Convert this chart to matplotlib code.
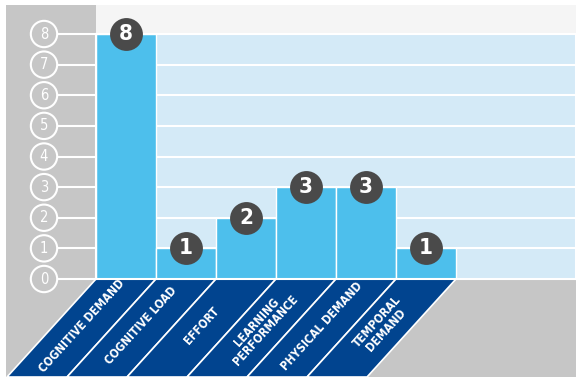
import numpy as np
import matplotlib
matplotlib.use('Agg')
import matplotlib.pyplot as plt
from matplotlib.patches import Rectangle, Polygon

categories = ['COGNITIVE DEMAND', 'COGNITIVE LOAD', 'EFFORT', 'LEARNING\nPERFORMANCE',
              'PHYSICAL DEMAND', 'TEMPORAL\nDEMAND']
counts = [8, 1, 2, 3, 3, 1]
y_ticks = [0, 1, 2, 3, 4, 5, 6, 7, 8]

FONT = ['DejaVu Sans']
GRAY = '#c6c6c6'
TOPBAND = '#f5f5f5'
LIGHTBLUE = '#d4eaf7'
BAR = '#4dbfec'
NAVY = '#01448f'
BADGE = '#4a4a4a'

W, H = 576, 377
fig = plt.figure(figsize=(W / 100, H / 100), dpi=100)
fig.patch.set_facecolor('white')

# background panels (figure pixel fractions)
fig.patches.append(Rectangle((6 / W, 0), 1 - 6 / W, 1 - 5 / H, transform=fig.transFigure,
                             facecolor=GRAY, edgecolor='none', zorder=-10))
fig.patches.append(Rectangle((96 / W, 1 - 33 / H), 1 - 96 / W, 28 / H, transform=fig.transFigure,
                             facecolor=TOPBAND, edgecolor='none', zorder=-10))

# main axes: 60 px per bar, value 0 at y=279, 8 at y=34
ax = fig.add_axes([96 / W, (H - 279) / H, 480 / W, 245 / H])
ax.set_facecolor(LIGHTBLUE)
ax.set_xlim(-0.5, 7.5)
ax.set_ylim(0, 8)
for s in ax.spines.values():
    s.set_color('white')
    s.set_linewidth(1.5)
ax.set_xticks([])
ax.set_yticks([])

x = np.arange(len(counts))
for yv in y_ticks[1:]:
    ax.axhline(yv, color='white', lw=1.5, zorder=1)
ax.bar(x, counts, width=1.0, color=BAR, edgecolor='white', linewidth=1, zorder=2)

# value badges
ax.scatter(x, counts, s=560, color=BADGE, zorder=5, clip_on=False, linewidths=0)
for xi, v in zip(x, counts):
    ax.text(xi, v, str(v), color='white', fontsize=16, fontweight='bold', family=FONT,
            fontstretch='condensed', ha='center', va='center', zorder=6)

# y labels in circles on the gray panel
px_x = 1 / 60.0
px_y = 8 / 245.0
cx = -0.5 - 52 * px_x
ax.scatter([cx] * len(y_ticks), y_ticks, s=360, facecolors='none', edgecolors='white',
           linewidths=1.5, clip_on=False, zorder=3)
ax.hlines(y_ticks, cx + 13 * px_x, -0.5, color='white', lw=1.5, clip_on=False, zorder=3)
for yv in y_ticks:
    ax.text(cx, yv, str(yv), color='white', fontsize=10.5, family=FONT, fontstretch='condensed',
            ha='center', va='center', clip_on=False)

# slanted category bands
dy = 98 * px_y
dx = 89 * px_x
for xi, lab in zip(x, categories):
    poly = Polygon([(xi - 0.5, 0), (xi + 0.5, 0), (xi + 0.5 - dx, -dy), (xi - 0.5 - dx, -dy)],
                   closed=True, facecolor=NAVY, edgecolor='white', lw=1.2, clip_on=False, zorder=2)
    ax.add_patch(poly)
    ax.text(xi - dx / 2, -dy / 2 + 2 * px_y, lab, color='white', fontsize=8.5, family=FONT,
            fontstretch='condensed', fontweight='bold',
            rotation=np.degrees(np.arctan2(98, 89)), rotation_mode='anchor',
            ha='center', va='center', linespacing=0.95, clip_on=False, zorder=3)

fig.savefig('out.png', dpi=100)
